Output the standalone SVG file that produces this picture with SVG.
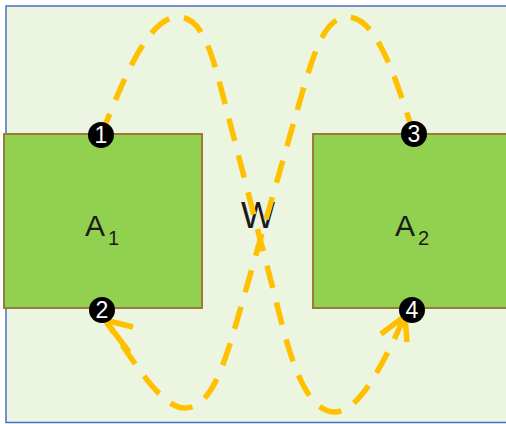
<svg xmlns="http://www.w3.org/2000/svg" width="506" height="424" viewBox="0 0 506 424">
  <style>
    .frame { fill: #EBF5E0; stroke: #4472C4; stroke-width: 1.5; }
    .area { fill: #92D050; stroke: #9C7B3A; stroke-width: 2; }
    .label { font-family: "Liberation Sans", Arial, sans-serif; fill: #1A1A1A; }
    .flow { fill: none; stroke: #FFC000; stroke-width: 5.5; stroke-dasharray: 23 15; }
    .head { fill: none; stroke: #FFC000; stroke-width: 5.5; stroke-linejoin: miter; }
    .pin { fill: #000000; }
    .pin-num { font-family: "Liberation Sans", Arial, sans-serif; font-size: 23px; fill: #FFFFFF; text-anchor: middle; }
  </style>

  <!-- background panel -->
  <rect class="frame" x="6" y="6" width="520" height="416.5"/>

  <!-- region A1 -->
  <g id="node-A1">
    <rect class="area" x="4" y="134" width="198" height="174"/>
    <text class="label" x="85" y="236" font-size="30">A<tspan font-size="20" dx="3" dy="9">1</tspan></text>
  </g>

  <!-- region A2 -->
  <g id="node-A2">
    <rect class="area" x="313" y="134" width="210" height="174"/>
    <text class="label" x="395" y="236" font-size="30">A<tspan font-size="20" dx="3" dy="9">2</tspan></text>
  </g>

  <!-- label W between the regions -->
  <g id="node-W">
    <text class="label" x="241" y="228" font-size="36" fill="#000">W</text>
  </g>

  <!-- dashed flow loops -->
  <g id="connectors">
    <path class="flow" d="M101,135 C118,95 145,17 178,17 C200,17 210,45 222,92 L272,285 C285,335 300,412 335,412 C360,412 385,360 405,316"/>
    <polyline class="head" points="381,334 405,316 407,342"/>
    <path class="flow" d="M414,134 C400,95 380,17 348,17 C325,17 315,50 303,90 L243,300 C228,350 215,408 185,408 C160,408 132,358 105,320"/>
    <polyline class="head" points="133,327 105,320 129,352"/>
  </g>

  <!-- numbered terminals -->
  <g id="node-1">
    <circle class="pin" cx="101" cy="135" r="13"/>
    <text class="pin-num" x="101" y="143">1</text>
  </g>
  <g id="node-2">
    <circle class="pin" cx="102" cy="310" r="13"/>
    <text class="pin-num" x="102" y="318">2</text>
  </g>
  <g id="node-3">
    <circle class="pin" cx="414" cy="134" r="13"/>
    <text class="pin-num" x="414" y="142">3</text>
  </g>
  <g id="node-4">
    <circle class="pin" cx="412" cy="310" r="13"/>
    <text class="pin-num" x="412" y="318">4</text>
  </g>
</svg>
